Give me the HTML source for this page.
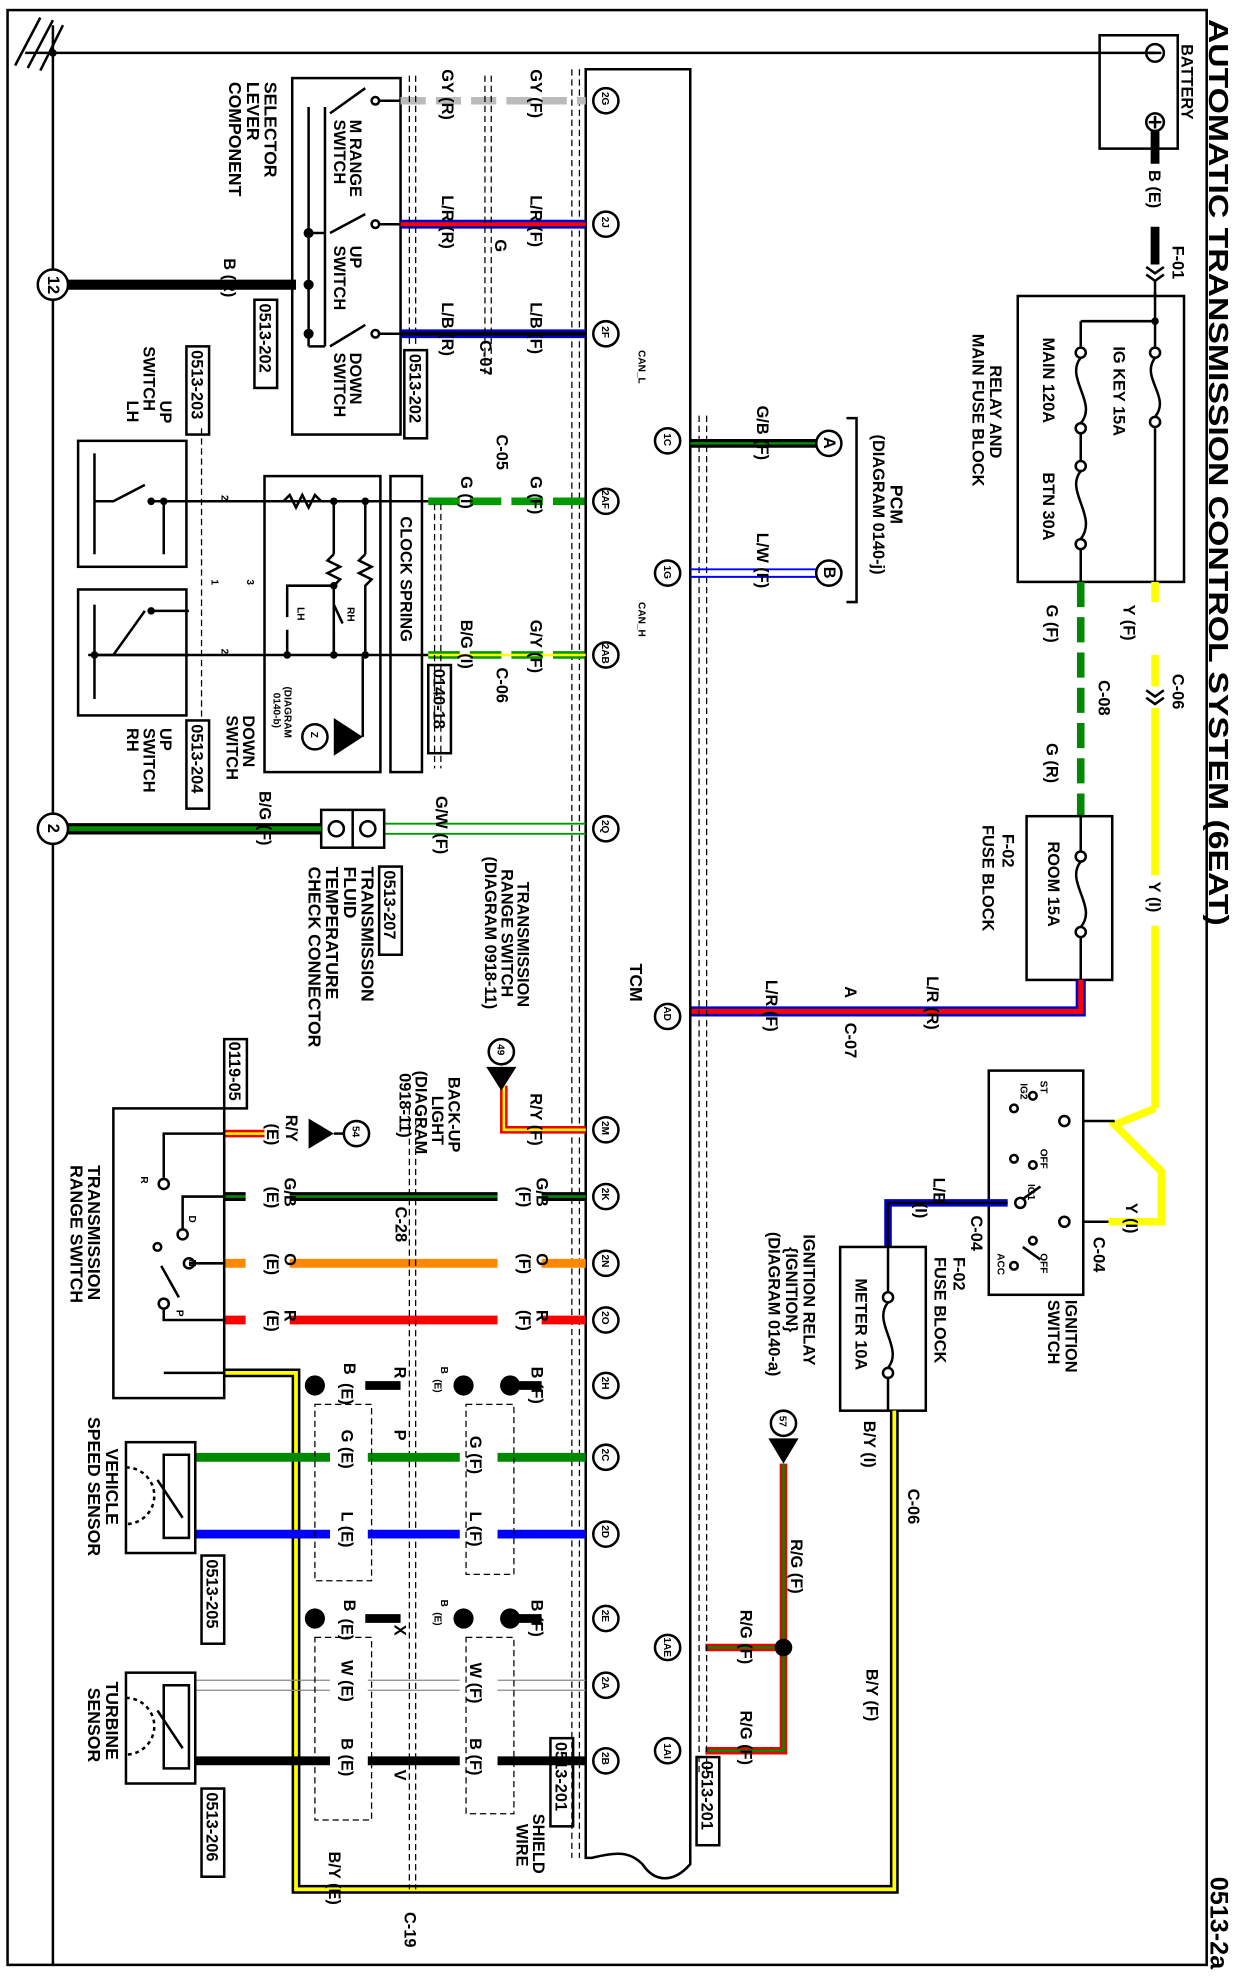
<!DOCTYPE html>
<html><head><meta charset="utf-8"><style>
html,body{margin:0;padding:0;background:#fff}
svg{display:block}
text{font-family:"Liberation Sans",sans-serif;font-weight:bold;fill:#000}
.s{font-size:13px}.xs{font-size:8px}.m{font-size:14px}
.k{stroke:#000;fill:none;stroke-width:2}
.d{stroke:#000;fill:none;stroke-width:1;stroke-dasharray:5,3}
</style></head><body>
<svg width="1247" height="1980" viewBox="0 0 990 1572" preserveAspectRatio="none" xmlns="http://www.w3.org/2000/svg">
<rect x="0" y="0" width="990" height="1572" fill="#fff"/>
<rect x="6" y="8" width="952" height="1552" class="k"/>
<text transform="translate(960,15) rotate(90)" style="font-size:22px" textLength="720" lengthAdjust="spacingAndGlyphs">AUTOMATIC TRANSMISSION CONTROL SYSTEM (6EAT)</text>
<text transform="translate(961,1490) rotate(90)" style="font-size:20px">0513-2a</text>

<line x1="42" y1="20" x2="42" y2="1560" class="k"/>
<line x1="20" y1="42" x2="918" y2="42" class="k"/>
<circle cx="42" cy="42" r="3"/>
<line x1="12" y1="52" x2="32" y2="14" class="k"/><line x1="22" y1="54" x2="42" y2="16" class="k"/><line x1="32" y1="56" x2="50" y2="20" class="k"/>

<rect x="873" y="28" width="62" height="90" class="k"/>
<circle cx="917" cy="42" r="7" class="k"/><line x1="912" y1="42" x2="922" y2="42" class="k"/>
<circle cx="917" cy="97" r="7" class="k"/><line x1="912" y1="97" x2="922" y2="97" class="k"/><line x1="917" y1="92" x2="917" y2="102" class="k"/>
<text class="s" transform="translate(938,35) rotate(90)">BATTERY</text>
<line x1="917" y1="104" x2="917" y2="130" stroke="#000" stroke-width="7"/>
<line x1="917" y1="180" x2="917" y2="210" stroke="#000" stroke-width="7"/>
<line x1="917" y1="222" x2="917" y2="235" stroke="#000" stroke-width="2"/>
<text class="s" transform="translate(912,135) rotate(90)">B (E)</text>
<text class="s" transform="translate(931,195) rotate(90)">F-01</text>
<path d="M910,212 l7,5 l7,-5 M910,218 l7,5 l7,-5" class="k" stroke-width="1.5"/>

<rect x="808" y="235" width="132" height="227" class="k"/>
<line x1="917" y1="232" x2="917" y2="275" class="k"/><line x1="917" y1="340" x2="917" y2="462" class="k"/>
<circle cx="917" cy="255" r="3"/>
<line x1="858" y1="255" x2="917" y2="255" class="k"/><line x1="858" y1="255" x2="858" y2="275" class="k"/>
<circle cx="917" cy="280" r="4" class="k"/><circle cx="917" cy="335" r="4" class="k"/>
<path d="M917,284 C905,300 930,315 917,331" class="k"/>
<circle cx="858" cy="280" r="4" class="k"/><circle cx="858" cy="340" r="4" class="k"/><circle cx="858" cy="370" r="4" class="k"/><circle cx="858" cy="432" r="4" class="k"/>
<path d="M858,284 C845,300 872,320 858,336 M858,374 C845,390 872,410 858,428" class="k"/>
<line x1="858" y1="344" x2="858" y2="366" class="k"/><line x1="858" y1="436" x2="858" y2="462" class="k"/>
<text class="s" transform="translate(884,275) rotate(90)">IG KEY 15A</text>
<text class="s" transform="translate(828,268) rotate(90)">MAIN 120A</text>
<text class="s" transform="translate(828,375) rotate(90)">BTN 30A</text>
<text class="s" transform="translate(786,290) rotate(90)">RELAY AND</text>
<text class="s" transform="translate(772,265) rotate(90)">MAIN FUSE BLOCK</text>

<g stroke="#ff0" stroke-width="6">
<line x1="917" y1="462" x2="917" y2="478"/><line x1="917" y1="520" x2="917" y2="545"/><line x1="917" y1="562" x2="917" y2="695"/><line x1="917" y1="735" x2="917" y2="880"/>
</g>
<path d="M917,880 L885,893 L922,930 L922,970 L880,970" fill="none" stroke="#ff0" stroke-width="6"/>
<text class="s" transform="translate(892,480) rotate(90)">Y (F)</text>
<text class="s" transform="translate(931,535) rotate(90)">C-06</text>
<path d="M910,548 l7,5 l7,-5 M910,554 l7,5 l7,-5" class="k" stroke-width="1.5"/>
<text class="s" transform="translate(912,700) rotate(90)">Y (I)</text>
<text class="s" transform="translate(894,955) rotate(90)">Y (I)</text>
<text class="s" transform="translate(868,982) rotate(90)">C-04</text>

<line x1="858" y1="462" x2="858" y2="648" stroke="#080" stroke-width="6" stroke-dasharray="20,8"/>
<text class="s" transform="translate(831,480) rotate(90)">G (F)</text>
<text class="s" transform="translate(872,540) rotate(90)">C-08</text>
<text class="s" transform="translate(831,590) rotate(90)">G (R)</text>
<rect x="815" y="648" width="68" height="130" class="k"/>
<line x1="858" y1="648" x2="858" y2="676" class="k"/><line x1="858" y1="744" x2="858" y2="778" class="k"/>
<circle cx="858" cy="680" r="4" class="k"/><circle cx="858" cy="740" r="4" class="k"/>
<path d="M858,684 C845,700 872,720 858,736" class="k"/>
<text class="s" transform="translate(832,668) rotate(90)">ROOM 15A</text>
<text class="s" transform="translate(796,662) rotate(90)">F-02</text>
<text class="s" transform="translate(780,655) rotate(90)">FUSE BLOCK</text>
<path d="M858,778 V803 H548" fill="none" stroke="#00c" stroke-width="8"/>
<path d="M858,778 V803 H548" fill="none" stroke="#f00" stroke-width="4"/>
<text class="s" transform="translate(736,775) rotate(90)">L/R (R)</text>
<text class="s" transform="translate(671,783) rotate(90)">A</text>
<text class="s" transform="translate(671,812) rotate(90)">C-07</text>
<text class="s" transform="translate(608,778) rotate(90)">L/R (F)</text>

<rect x="785" y="850" width="75" height="178" class="k"/>
<line x1="860" y1="890" x2="885" y2="890" class="k"/><line x1="860" y1="970" x2="880" y2="970" class="k"/>
<circle cx="845" cy="890" r="4" class="k"/><circle cx="845" cy="970" r="4" class="k"/>
<circle cx="820" cy="870" r="3" class="k"/><circle cx="805" cy="880" r="3" class="k"/><circle cx="805" cy="920" r="3" class="k"/><circle cx="820" cy="925" r="3" class="k"/><circle cx="810" cy="955" r="4" class="k"/><circle cx="820" cy="985" r="3" class="k"/><circle cx="805" cy="1005" r="3" class="k"/>
<path d="M812,952 l14,-10 M812,990 l14,10" class="k"/>
<text class="xs" transform="translate(826,858) rotate(90)">ST</text>
<text class="xs" transform="translate(810,860) rotate(90)">IG2</text>
<text class="xs" transform="translate(826,912) rotate(90)">OFF</text>
<text class="xs" transform="translate(816,940) rotate(90)">IG1</text>
<text class="xs" transform="translate(792,995) rotate(90)">ACC</text>
<text class="xs" transform="translate(826,995) rotate(90)">OFF</text>
<text class="s" transform="translate(846,1032) rotate(90)">IGNITION</text>
<text class="s" transform="translate(832,1032) rotate(90)">SWITCH</text>
<path d="M800,955 H705 V990" fill="none" stroke="#00c" stroke-width="6"/>
<path d="M800,955 H705 V990" fill="none" stroke="#000" stroke-width="2"/>
<text class="s" transform="translate(741,935) rotate(90)">L/B</text>
<text class="s" transform="translate(727,955) rotate(90)">(I)</text>
<text class="s" transform="translate(771,965) rotate(90)">C-04</text>
<text class="s" transform="translate(757,998) rotate(90)">F-02</text>
<text class="s" transform="translate(742,998) rotate(90)">FUSE BLOCK</text>
<rect x="667" y="990" width="68" height="130" class="k"/>
<line x1="705" y1="990" x2="705" y2="1026" class="k"/><line x1="705" y1="1094" x2="705" y2="1120" class="k"/>
<circle cx="705" cy="1030" r="4" class="k"/><circle cx="705" cy="1090" r="4" class="k"/>
<path d="M705,1034 C692,1050 718,1070 705,1086" class="k"/>
<text class="s" transform="translate(679,1015) rotate(90)">METER 10A</text>

<path d="M710,1120 V1500 H235 V1090 H178" fill="none" stroke="#000" stroke-width="7"/>
<path d="M710,1120 V1500 H235 V1090 H178" fill="none" stroke="#ff0" stroke-width="3"/>
<text class="s" transform="translate(686,1128) rotate(90)">B/Y (I)</text>
<text class="s" transform="translate(721,1182) rotate(90)">C-06</text>
<text class="s" transform="translate(688,1325) rotate(90)">B/Y (F)</text>
<text class="s" transform="translate(261,1470) rotate(90)">B/Y (E)</text>
<text class="s" transform="translate(321,1518) rotate(90)">C-19</text>

<circle cx="622" cy="1130" r="10" class="k"/><text class="xs" transform="translate(619,1124) rotate(90)">57</text>
<path d="M610,1142 H634 L622,1162 Z"/>
<path d="M622,1162 V1390 H560 M622,1308 H560" fill="none" stroke="#e00" stroke-width="6"/>
<path d="M622,1162 V1390 H560 M622,1308 H560" fill="none" stroke="#080" stroke-width="2"/>
<circle cx="622" cy="1308" r="7"/>
<text class="s" transform="translate(638,980) rotate(90)">IGNITION RELAY</text>
<text class="s" transform="translate(624,990) rotate(90)">{IGNITION}</text>
<text class="s" transform="translate(610,978) rotate(90)">(DIAGRAM 0140-a)</text>
<text class="s" transform="translate(628,1222) rotate(90)">R/G (F)</text>
<text class="s" transform="translate(588,1278) rotate(90)">R/G (F)</text>
<text class="s" transform="translate(588,1358) rotate(90)">R/G (F)</text>

<path d="M465,55 H548 V1480 C535,1495 520,1495 510,1480 C500,1470 490,1470 470,1475 L465,1475 Z" class="k"/>
<line x1="454" y1="55" x2="454" y2="1475" class="d"/><line x1="460" y1="55" x2="460" y2="1475" class="d"/>
<line x1="555" y1="330" x2="555" y2="1410" class="d"/><line x1="561" y1="330" x2="561" y2="1410" class="d"/>
<text class="m" transform="translate(500,765) rotate(90)">TCM</text>
<rect x="437" y="1380" width="18" height="70" class="k" stroke-width="1.5" fill="#fff"/><text class="s" transform="translate(441,1383) rotate(90)">0513-201</text>
<rect x="553" y="1395" width="18" height="70" class="k" stroke-width="1.5" fill="#fff"/><text class="s" transform="translate(557,1398) rotate(90)">0513-201</text>

<g class="k" stroke-width="1.5">
<circle cx="481" cy="80" r="10"/><circle cx="481" cy="178" r="10"/><circle cx="481" cy="265" r="10"/><circle cx="481" cy="398" r="10"/><circle cx="481" cy="520" r="10"/><circle cx="481" cy="658" r="10"/><circle cx="481" cy="897" r="10"/><circle cx="481" cy="950" r="10"/><circle cx="481" cy="1003" r="10"/><circle cx="481" cy="1048" r="10"/><circle cx="481" cy="1100" r="10"/><circle cx="481" cy="1157" r="10"/><circle cx="481" cy="1218" r="10"/><circle cx="481" cy="1285" r="10"/><circle cx="481" cy="1338" r="10"/><circle cx="481" cy="1398" r="10"/>
<circle cx="530" cy="350" r="10"/><circle cx="530" cy="455" r="10"/><circle cx="530" cy="807" r="10"/><circle cx="530" cy="1308" r="10"/><circle cx="530" cy="1390" r="10"/>
</g>
<g class="xs">
<text transform="translate(478,73) rotate(90)">2G</text><text transform="translate(478,172) rotate(90)">2J</text><text transform="translate(478,259) rotate(90)">2F</text><text transform="translate(478,389) rotate(90)">2AF</text><text transform="translate(478,511) rotate(90)">2AB</text><text transform="translate(478,651) rotate(90)">2Q</text><text transform="translate(478,890) rotate(90)">2M</text><text transform="translate(478,943) rotate(90)">2K</text><text transform="translate(478,996) rotate(90)">2N</text><text transform="translate(478,1041) rotate(90)">2O</text><text transform="translate(478,1093) rotate(90)">2H</text><text transform="translate(478,1150) rotate(90)">2C</text><text transform="translate(478,1211) rotate(90)">2D</text><text transform="translate(478,1278) rotate(90)">2E</text><text transform="translate(478,1331) rotate(90)">2A</text><text transform="translate(478,1391) rotate(90)">2B</text>
<text transform="translate(527,344) rotate(90)">1C</text><text transform="translate(527,449) rotate(90)">1G</text><text transform="translate(527,799) rotate(90)">AD</text><text transform="translate(527,1300) rotate(90)">1AE</text><text transform="translate(527,1384) rotate(90)">1AI</text>
</g>

<line x1="548" y1="352" x2="648" y2="352" stroke="#000" stroke-width="7"/><line x1="548" y1="352" x2="648" y2="352" stroke="#080" stroke-width="2"/>
<line x1="548" y1="452" x2="648" y2="452" stroke="#00f" stroke-width="1.5"/><line x1="548" y1="458" x2="648" y2="458" stroke="#00f" stroke-width="1.5"/>
<circle cx="658" cy="352" r="10" class="k" stroke-width="1.5"/><text class="s" transform="translate(654,347) rotate(90)">A</text>
<circle cx="658" cy="455" r="10" class="k" stroke-width="1.5"/><text class="s" transform="translate(654,450) rotate(90)">B</text>
<path d="M672,332 H680 V478 H672" class="k"/>
<text class="m" transform="translate(707,385) rotate(90)">PCM</text>
<text class="s" transform="translate(693,345) rotate(90)">(DIAGRAM 0140-j)</text>
<text class="s" transform="translate(601,322) rotate(90)">G/B (F)</text>
<text class="s" transform="translate(601,423) rotate(90)">L/W (F)</text>
<text class="xs" transform="translate(507,278) rotate(90)">CAN_L</text>
<text class="xs" transform="translate(507,478) rotate(90)">CAN_H</text>

<rect x="232" y="62" width="86" height="283" class="k"/>
<line x1="318" y1="80" x2="465" y2="80" stroke="#bbb" stroke-width="6" stroke-dasharray="20,8"/>
<line x1="318" y1="178" x2="465" y2="178" stroke="#00c" stroke-width="7"/><line x1="318" y1="178" x2="465" y2="178" stroke="#f00" stroke-width="3"/>
<line x1="318" y1="265" x2="465" y2="265" stroke="#00c" stroke-width="7"/><line x1="318" y1="265" x2="465" y2="265" stroke="#000" stroke-width="3"/>
<path d="M300,80 H318 M300,178 H318 M300,265 H318" class="k"/>
<circle cx="298" cy="80" r="3" class="k"/><circle cx="298" cy="178" r="3" class="k"/><circle cx="298" cy="265" r="3" class="k"/>
<path d="M262,90 L290,70 M262,185 L290,170 M262,275 L290,258" class="k"/>
<path d="M258,85 V275 M258,185 H245 M258,275 H245 M245,85 V275" class="k"/>
<circle cx="245" cy="226" r="4"/><circle cx="245" cy="185" r="4"/><circle cx="245" cy="265" r="4"/>
<line x1="54" y1="226" x2="235" y2="226" stroke="#000" stroke-width="8"/>
<circle cx="42" cy="226" r="12" fill="#fff" stroke="#000" stroke-width="2"/><text class="s" transform="translate(38,219) rotate(90)">12</text>
<text class="s" transform="translate(178,205) rotate(90)">B (R)</text>
<text class="s" transform="translate(278,95) rotate(90)">M RANGE</text><text class="s" transform="translate(265,95) rotate(90)">SWITCH</text>
<text class="s" transform="translate(278,195) rotate(90)">UP</text><text class="s" transform="translate(265,195) rotate(90)">SWITCH</text>
<text class="s" transform="translate(278,280) rotate(90)">DOWN</text><text class="s" transform="translate(265,280) rotate(90)">SWITCH</text>
<text class="m" transform="translate(210,65) rotate(90)">SELECTOR</text><text class="m" transform="translate(196,65) rotate(90)">LEVER</text><text class="m" transform="translate(182,65) rotate(90)">COMPONENT</text>
<rect x="202" y="238" width="18" height="70" class="k" stroke-width="1.5"/><text class="s" transform="translate(206,241) rotate(90)">0513-202</text>
<rect x="321" y="278" width="18" height="70" class="k" stroke-width="1.5" fill="#fff"/><text class="s" transform="translate(325,281) rotate(90)">0513-202</text>
<line x1="385" y1="60" x2="385" y2="300" class="d"/><line x1="390" y1="60" x2="390" y2="300" class="d"/>
<line x1="325" y1="60" x2="325" y2="275" class="d"/><line x1="330" y1="60" x2="330" y2="275" class="d"/>
<text class="s" transform="translate(421,55) rotate(90)">GY (F)</text><text class="s" transform="translate(351,55) rotate(90)">GY (R)</text>
<text class="s" transform="translate(421,155) rotate(90)">L/R (F)</text><text class="s" transform="translate(393,190) rotate(90)">G</text><text class="s" transform="translate(351,155) rotate(90)">L/R (R)</text>
<text class="s" transform="translate(421,240) rotate(90)">L/B (F)</text><text class="s" transform="translate(351,240) rotate(90)">L/B (R)</text><text class="s" transform="translate(381,270) rotate(90)">C-07</text>

<line x1="340" y1="398" x2="465" y2="398" stroke="#090" stroke-width="6" stroke-dasharray="25,8"/>
<line x1="340" y1="520" x2="465" y2="520" stroke="#090" stroke-width="6" stroke-dasharray="25,8"/><line x1="340" y1="520" x2="465" y2="520" stroke="#ff0" stroke-width="2"/>
<line x1="130" y1="398" x2="340" y2="398" class="k"/><line x1="70" y1="520" x2="340" y2="520" class="k"/>
<rect x="210" y="378" width="92" height="235" class="k"/>
<rect x="310" y="378" width="25" height="235" class="k"/>
<text class="s" transform="translate(318,410) rotate(90)">CLOCK SPRING</text>
<path d="M225,398 l5,-5 5,10 5,-10 5,10 5,-10 5,5" class="k" stroke-width="1.5"/>
<path d="M265,398 V440 M290,398 V440 M265,440 l-5,5 10,5 -10,5 10,5 -5,5 V520 M290,440 l-5,5 10,5 -10,5 10,5 -5,5 V520" class="k" stroke-width="1.5"/>
<circle cx="265" cy="398" r="3"/><circle cx="290" cy="398" r="3"/><circle cx="265" cy="520" r="3"/><circle cx="290" cy="520" r="3"/><circle cx="228" cy="520" r="3"/><circle cx="265" cy="465" r="3"/>
<path d="M265,465 H228 V490 M228,500 V520 M265,480 L272,495 M265,500 V520" class="k" stroke-width="1.5"/>
<text class="xs" transform="translate(236,482) rotate(90)">LH</text><text class="xs" transform="translate(276,482) rotate(90)">RH</text>
<circle cx="250" cy="585" r="10" class="k" stroke-width="1.5"/><text class="xs" transform="translate(247,581) rotate(90)">Z</text>
<path d="M265,570 V600 L288,585 Z"/><line x1="288" y1="585" x2="288" y2="520" class="k"/>
<text class="xs" transform="translate(226,545) rotate(90)">(DIAGRAM</text><text class="xs" transform="translate(217,550) rotate(90)">0140-b)</text>
<rect x="62" y="350" width="86" height="100" class="k"/>
<rect x="62" y="468" width="86" height="100" class="k"/>
<path d="M75,360 V440 M75,398 H90 L115,385 M120,398 H130 V440 M130,398 H150" class="k"/>
<circle cx="120" cy="398" r="3"/><circle cx="130" cy="398" r="3"/>
<path d="M75,520 H150 M75,480 V555 M90,520 L115,485 M120,485 H150" class="k"/>
<circle cx="75" cy="520" r="3"/><circle cx="120" cy="485" r="3"/>
<line x1="160" y1="340" x2="160" y2="570" class="d"/>
<text class="xs" transform="translate(176,393) rotate(90)">2</text><text class="xs" transform="translate(176,515) rotate(90)">2</text><text class="xs" transform="translate(168,460) rotate(90)">1</text><text class="xs" transform="translate(196,460) rotate(90)">3</text>
<line x1="345" y1="400" x2="345" y2="610" class="d"/><line x1="350" y1="400" x2="350" y2="610" class="d"/>
<rect x="340" y="528" width="18" height="70" class="k" stroke-width="1.5" fill="#fff"/><text class="s" transform="translate(344,531) rotate(90)">0140-18</text>
<rect x="148" y="275" width="18" height="70" class="k" stroke-width="1.5"/><text class="s" transform="translate(152,278) rotate(90)">0513-203</text>
<rect x="148" y="572" width="18" height="70" class="k" stroke-width="1.5"/><text class="s" transform="translate(152,575) rotate(90)">0513-204</text>
<text class="s" transform="translate(127,318) rotate(90)">UP</text><text class="s" transform="translate(114,275) rotate(90)">SWITCH</text><text class="s" transform="translate(101,318) rotate(90)">LH</text>
<text class="s" transform="translate(193,568) rotate(90)">DOWN</text><text class="s" transform="translate(180,568) rotate(90)">SWITCH</text>
<text class="s" transform="translate(127,578) rotate(90)">UP</text><text class="s" transform="translate(114,578) rotate(90)">SWITCH</text><text class="s" transform="translate(101,578) rotate(90)">RH</text>
<text class="s" transform="translate(421,378) rotate(90)">G (F)</text><text class="s" transform="translate(366,378) rotate(90)">G (I)</text><text class="s" transform="translate(394,345) rotate(90)">C-05</text>
<text class="s" transform="translate(421,492) rotate(90)">G/Y (F)</text><text class="s" transform="translate(366,492) rotate(90)">B/G (I)</text><text class="s" transform="translate(394,530) rotate(90)">C-06</text>

<line x1="305" y1="654" x2="465" y2="654" stroke="#090" stroke-width="1.5"/><line x1="305" y1="662" x2="465" y2="662" stroke="#090" stroke-width="1.5"/>
<rect x="255" y="643" width="50" height="30" class="k"/><line x1="280" y1="643" x2="280" y2="673" class="k"/>
<circle cx="267" cy="658" r="6" class="k"/><circle cx="292" cy="658" r="6" class="k"/>
<line x1="54" y1="658" x2="255" y2="658" stroke="#000" stroke-width="9"/><line x1="54" y1="658" x2="255" y2="658" stroke="#080" stroke-width="4"/>
<circle cx="42" cy="658" r="12" fill="#fff" stroke="#000" stroke-width="2"/><text class="s" transform="translate(38,654) rotate(90)">2</text>
<text class="s" transform="translate(346,632) rotate(90)">G/W (F)</text>
<text class="s" transform="translate(206,628) rotate(90)">B/G (F)</text>
<rect x="301" y="688" width="18" height="70" class="k" stroke-width="1.5"/><text class="s" transform="translate(305,691) rotate(90)">0513-207</text>
<text class="m" transform="translate(287,688) rotate(90)">TRANSMISSION</text><text class="m" transform="translate(273,688) rotate(90)">FLUID</text><text class="m" transform="translate(259,688) rotate(90)">TEMPERATURE</text><text class="m" transform="translate(245,688) rotate(90)">CHECK CONNECTOR</text>
<text class="s" transform="translate(411,700) rotate(90)">TRANSMISSION</text><text class="s" transform="translate(398,690) rotate(90)">RANGE SWITCH</text><text class="s" transform="translate(385,680) rotate(90)">(DIAGRAM 0918-11)</text>

<path d="M465,897 H400 V862" fill="none" stroke="#e00" stroke-width="6"/><path d="M465,897 H400 V862" fill="none" stroke="#ff0" stroke-width="2"/>
<circle cx="398" cy="835" r="10" class="k" stroke-width="1.5"/><text class="xs" transform="translate(395,829) rotate(90)">49</text>
<path d="M386,847 H410 L398,866 Z"/>
<text class="s" transform="translate(421,868) rotate(90)">R/Y (F)</text>
<text class="s" transform="translate(356,855) rotate(90)">BACK-UP</text><text class="s" transform="translate(343,870) rotate(90)">LIGHT</text><text class="s" transform="translate(330,850) rotate(90)">(DIAGRAM</text><text class="s" transform="translate(317,852) rotate(90)">0918-11)</text>
<line x1="178" y1="900" x2="210" y2="900" stroke="#e00" stroke-width="6"/><line x1="178" y1="900" x2="210" y2="900" stroke="#ff0" stroke-width="2"/>
<path d="M245,888 V912 L265,900 Z"/><line x1="265" y1="900" x2="273" y2="900" class="k"/>
<circle cx="283" cy="900" r="10" class="k" stroke-width="1.5"/><text class="xs" transform="translate(280,894) rotate(90)">54</text>
<text class="s" transform="translate(227,885) rotate(90)">R/Y</text><text class="s" transform="translate(212,892) rotate(90)">(E)</text>
<rect x="178" y="825" width="18" height="55" class="k" stroke-width="1.5"/><text class="s" transform="translate(182,827) rotate(90)">0119-05</text>

<line x1="178" y1="950" x2="465" y2="950" stroke="#000" stroke-width="7"/><line x1="178" y1="950" x2="465" y2="950" stroke="#080" stroke-width="2"/>
<line x1="178" y1="1003" x2="465" y2="1003" stroke="#f80" stroke-width="7"/>
<line x1="178" y1="1048" x2="465" y2="1048" stroke="#f00" stroke-width="7"/>
<rect x="195" y="930" width="35" height="130" fill="#fff"/><rect x="395" y="930" width="35" height="130" fill="#fff"/>
<text class="s" transform="translate(226,935) rotate(90)">G/B</text><text class="s" transform="translate(212,942) rotate(90)">(E)</text>
<text class="s" transform="translate(426,935) rotate(90)">G/B</text><text class="s" transform="translate(412,942) rotate(90)">(F)</text>
<text class="s" transform="translate(226,995) rotate(90)">O</text><text class="s" transform="translate(212,995) rotate(90)">(E)</text>
<text class="s" transform="translate(426,995) rotate(90)">O</text><text class="s" transform="translate(412,995) rotate(90)">(F)</text>
<text class="s" transform="translate(226,1040) rotate(90)">R</text><text class="s" transform="translate(212,1040) rotate(90)">(E)</text>
<text class="s" transform="translate(426,1040) rotate(90)">R</text><text class="s" transform="translate(412,1040) rotate(90)">(F)</text>
<text class="s" transform="translate(314,958) rotate(90)">C-28</text>
<line x1="325" y1="880" x2="325" y2="1500" class="d"/><line x1="330" y1="880" x2="330" y2="1500" class="d"/>
<rect x="90" y="880" width="88" height="230" class="k"/>
<path d="M178,900 H130 V935 M178,950 H145 V975 M130,1040 V1048 H178 M130,1090 H178 M128,1005 L142,1030" class="k"/>
<circle cx="130" cy="940" r="4" class="k"/><circle cx="145" cy="980" r="4" class="k"/><circle cx="150" cy="1003" r="4" class="k"/><circle cx="130" cy="1035" r="4" class="k"/><circle cx="125" cy="990" r="3" class="k"/>
<path d="M150,1003 H178" class="k"/>
<text class="xs" transform="translate(112,934) rotate(90)">R</text><text class="xs" transform="translate(150,965) rotate(90)">D</text><text class="xs" transform="translate(150,1000) rotate(90)">N</text><text class="xs" transform="translate(140,1040) rotate(90)">P</text>
<text class="m" transform="translate(70,925) rotate(90)">TRANSMISSION</text><text class="m" transform="translate(56,925) rotate(90)">RANGE SWITCH</text>

<line x1="155" y1="1157" x2="465" y2="1157" stroke="#080" stroke-width="7"/>
<line x1="155" y1="1218" x2="465" y2="1218" stroke="#00f" stroke-width="7"/>
<line x1="155" y1="1334" x2="465" y2="1334" stroke="#888" stroke-width="1"/><line x1="155" y1="1342" x2="465" y2="1342" stroke="#888" stroke-width="1"/>
<line x1="155" y1="1398" x2="465" y2="1398" stroke="#000" stroke-width="7"/>
<rect x="262" y="1135" width="30" height="100" fill="#fff"/><rect x="365" y="1135" width="30" height="100" fill="#fff"/>
<rect x="262" y="1320" width="30" height="100" fill="#fff"/><rect x="365" y="1320" width="30" height="100" fill="#fff"/>
<g stroke="#000" stroke-width="7"><line x1="290" y1="1100" x2="318" y2="1100"/><line x1="410" y1="1100" x2="430" y2="1100"/><line x1="290" y1="1285" x2="318" y2="1285"/><line x1="410" y1="1285" x2="430" y2="1285"/></g>
<circle cx="250" cy="1100" r="8"/><circle cx="368" cy="1100" r="8"/><circle cx="405" cy="1100" r="8"/>
<circle cx="250" cy="1285" r="8"/><circle cx="368" cy="1285" r="8"/><circle cx="405" cy="1285" r="8"/>
<rect x="250" y="1115" width="45" height="140" class="d"/><rect x="370" y="1115" width="38" height="135" class="d"/>
<rect x="250" y="1300" width="45" height="145" class="d"/><rect x="370" y="1300" width="38" height="140" class="d"/>
<text class="s" transform="translate(273,1082) rotate(90)">B</text><text class="s" transform="translate(271,1098) rotate(90)">(E)</text>
<text class="xs" transform="translate(350,1085) rotate(90)">B</text><text class="xs" transform="translate(345,1095) rotate(90)">(E)</text>
<text class="s" transform="translate(422,1085) rotate(90)">B (F)</text>
<text class="s" transform="translate(313,1085) rotate(90)">R</text><text class="s" transform="translate(313,1135) rotate(90)">P</text>
<text class="s" transform="translate(271,1135) rotate(90)">G (E)</text><text class="s" transform="translate(373,1140) rotate(90)">G (F)</text>
<text class="s" transform="translate(271,1200) rotate(90)">L (E)</text><text class="s" transform="translate(373,1200) rotate(90)">L (F)</text>
<text class="s" transform="translate(273,1270) rotate(90)">B</text><text class="s" transform="translate(271,1285) rotate(90)">(E)</text>
<text class="xs" transform="translate(350,1270) rotate(90)">B</text><text class="xs" transform="translate(345,1280) rotate(90)">(E)</text>
<text class="s" transform="translate(422,1270) rotate(90)">B (F)</text>
<text class="s" transform="translate(313,1290) rotate(90)">X</text><text class="s" transform="translate(313,1405) rotate(90)">V</text>
<text class="s" transform="translate(271,1318) rotate(90)">W (E)</text><text class="s" transform="translate(373,1320) rotate(90)">W (F)</text>
<text class="s" transform="translate(271,1380) rotate(90)">B (E)</text><text class="s" transform="translate(373,1380) rotate(90)">B (F)</text>
<text class="s" transform="translate(423,1440) rotate(90)">SHIELD</text><text class="s" transform="translate(410,1448) rotate(90)">WIRE</text>
<rect x="100" y="1145" width="55" height="88" class="k"/><rect x="130" y="1155" width="20" height="66" class="k"/>
<path d="M100,1165 a20,20 0 0 1 0,45" class="k" stroke-width="3" stroke-dasharray="3,3"/>
<line x1="125" y1="1175" x2="145" y2="1205" class="k"/>
<rect x="100" y="1328" width="55" height="88" class="k"/><rect x="130" y="1338" width="20" height="66" class="k"/>
<path d="M100,1348 a20,20 0 0 1 0,45" class="k" stroke-width="3" stroke-dasharray="3,3"/>
<line x1="125" y1="1358" x2="145" y2="1388" class="k"/>
<text class="m" transform="translate(84,1150) rotate(90)">VEHICLE</text><text class="m" transform="translate(70,1125) rotate(90)">SPEED SENSOR</text>
<text class="m" transform="translate(84,1335) rotate(90)">TURBINE</text><text class="m" transform="translate(70,1340) rotate(90)">SENSOR</text>
<rect x="160" y="1235" width="18" height="70" class="k" stroke-width="1.5"/><text class="s" transform="translate(164,1238) rotate(90)">0513-205</text>
<rect x="160" y="1420" width="18" height="70" class="k" stroke-width="1.5"/><text class="s" transform="translate(164,1423) rotate(90)">0513-206</text>
</svg>
</body></html>
